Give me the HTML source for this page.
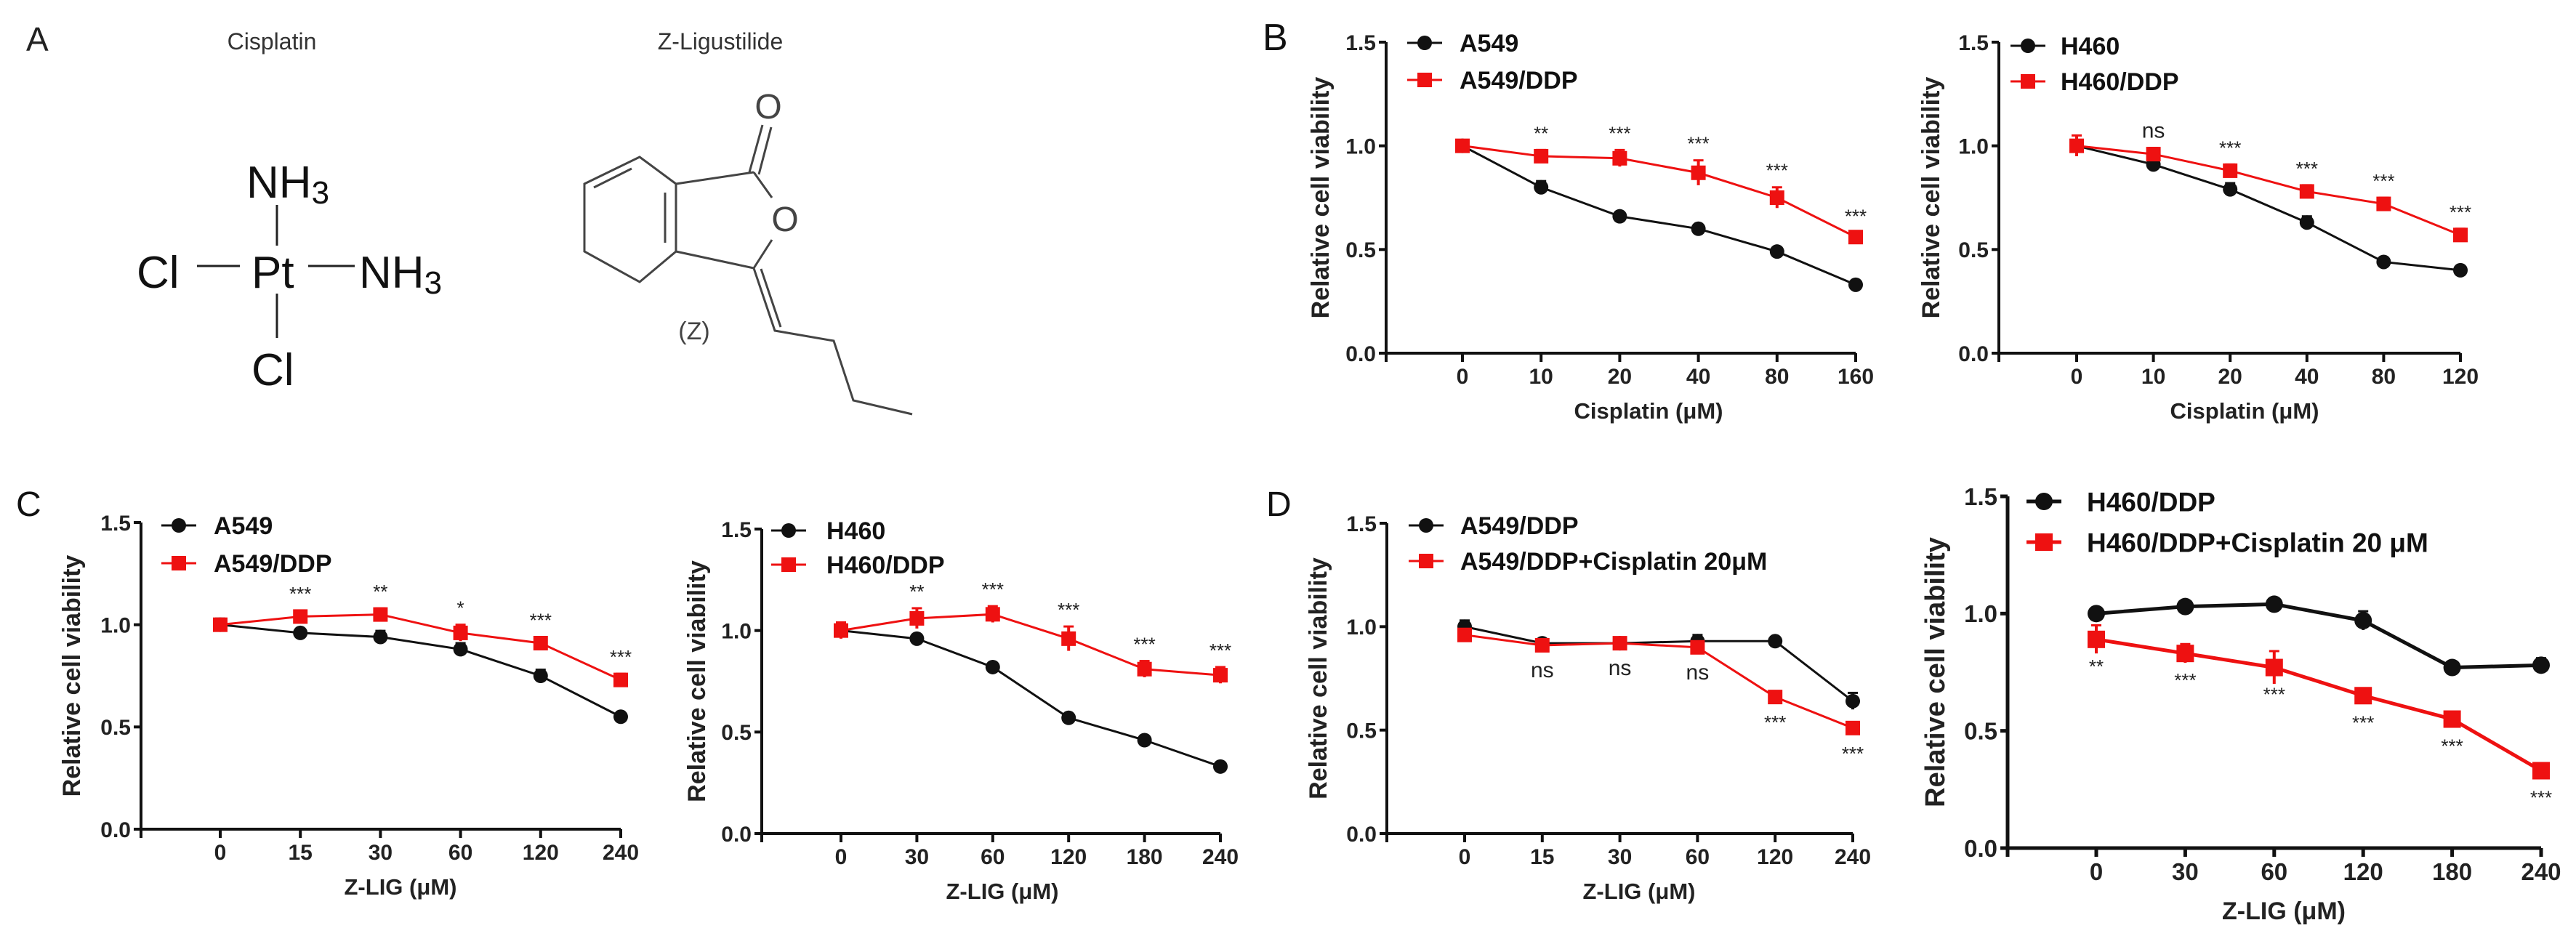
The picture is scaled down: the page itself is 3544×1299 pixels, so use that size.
<!DOCTYPE html>
<html><head><meta charset="utf-8">
<style>
html,body{margin:0;padding:0;background:#fff;}
svg{display:block;font-family:"Liberation Sans",Arial,sans-serif;}
</style></head>
<body>
<svg id="fig" width="3544" height="1299" viewBox="0 0 3544 1299" xmlns="http://www.w3.org/2000/svg">
<rect width="3544" height="1299" fill="#fff"/>
<g>
<text x="36" y="70" font-size="46" fill="#222">A</text>
<text x="374" y="68" font-size="32" text-anchor="middle" fill="#333">Cisplatin</text>
<text x="991" y="68" font-size="32" text-anchor="middle" fill="#333">Z-Ligustilide</text>
<g fill="#111" font-size="62">
<text x="339" y="272">NH<tspan font-size="44" dy="8">3</tspan></text>
<line x1="381" y1="282" x2="381" y2="338" stroke="#222" stroke-width="3"/>
<text x="188" y="396">Cl</text>
<line x1="271" y1="366" x2="330" y2="366" stroke="#222" stroke-width="3"/>
<text x="346" y="396">Pt</text>
<line x1="424" y1="366" x2="488" y2="366" stroke="#222" stroke-width="3"/>
<text x="494" y="396">NH<tspan font-size="44" dy="8">3</tspan></text>
<line x1="381" y1="404" x2="381" y2="465" stroke="#222" stroke-width="3"/>
<text x="346" y="530">Cl</text>
</g>
<g stroke="#444" stroke-width="3" fill="none">
<polyline points="930,253 880,216 804,253 804,346 880,388 930,346 930,253"/>
<line x1="869" y1="232" x2="817" y2="258"/>
<line x1="915" y1="265" x2="915" y2="334"/>
<line x1="930" y1="253" x2="1037" y2="237"/>
<line x1="1037" y1="237" x2="1062" y2="272"/>
<line x1="1062" y1="330" x2="1037" y2="369"/>
<line x1="1037" y1="369" x2="930" y2="346"/>
<line x1="1031" y1="237" x2="1049" y2="172"/>
<line x1="1044" y1="240" x2="1061" y2="175"/>
<polyline points="1037,369 1066,455 1147,469 1174,551 1255,570"/>
<line x1="1047" y1="370" x2="1074" y2="450"/>
</g>
<text x="1057" y="163" font-size="48" text-anchor="middle" fill="#444">O</text>
<text x="1080" y="318" font-size="48" text-anchor="middle" fill="#444">O</text>
<text x="955" y="467" font-size="34" text-anchor="middle" fill="#444">(Z)</text>
</g>
<text x="1737" y="69" font-size="52" fill="#111">B</text>
<text x="22" y="710" font-size="48" fill="#111">C</text>
<text x="1742" y="710" font-size="48" fill="#111">D</text>
<g id="charts"></g>
</svg>
<script>
// Panel B1
const b1Cats = ["0","10","20","40","80","160"];
const b1S1 = [1.0,0.80,0.66,0.60,0.49,0.33];
const b1S2 = [1.0,0.95,0.94,0.87,0.75,0.56];
const b1E1 = [0.01,0.03,0.01,0.01,0.01,0.01];
const b1E2 = [0.01,0.03,0.04,0.06,0.05,0.02];
const b1Sig = ["","**","***","***","***","***"];
// Panel B2
const b2Cats = ["0","10","20","40","80","120"];
const b2S1 = [1.0,0.91,0.79,0.63,0.44,0.40];
const b2S2 = [1.0,0.96,0.88,0.78,0.72,0.57];
const b2E1 = [0.02,0.02,0.03,0.03,0.02,0.02];
const b2E2 = [0.05,0.03,0.03,0.03,0.03,0.03];
const b2Sig = ["","ns","***","***","***","***"];
// Panel C1
const c1Cats = ["0","15","30","60","120","240"];
const c1S1 = [1.0,0.96,0.94,0.88,0.75,0.55];
const c1S2 = [1.0,1.04,1.05,0.96,0.91,0.73];
const c1E1 = [0.03,0.02,0.03,0.03,0.03,0.02];
const c1E2 = [0.02,0.03,0.03,0.04,0.03,0.03];
const c1Sig = ["","***","**","*","***","***"];
// Panel C2
const c2Cats = ["0","30","60","120","180","240"];
const c2S1 = [1.0,0.96,0.82,0.57,0.46,0.33];
const c2S2 = [1.0,1.06,1.08,0.96,0.81,0.78];
const c2E1 = [0.03,0.02,0.02,0.02,0.02,0.02];
const c2E2 = [0.04,0.05,0.04,0.06,0.04,0.04];
const c2Sig = ["","**","***","***","***","***"];
// Panel D1
const d1Cats = ["0","15","30","60","120","240"];
const d1S1 = [1.0,0.92,0.92,0.93,0.93,0.64];
const d1S2 = [0.96,0.91,0.92,0.90,0.66,0.51];
const d1E1 = [0.03,0.02,0.02,0.03,0.02,0.04];
const d1E2 = [0.02,0.02,0.02,0.02,0.02,0.02];
const d1Sig = ["","ns","ns","ns","***","***"];
// Panel D2
const d2Cats = ["0","30","60","120","180","240"];
const d2S1 = [1.0,1.03,1.04,0.97,0.77,0.78];
const d2S2 = [0.89,0.83,0.77,0.65,0.55,0.33];
const d2E1 = [0.02,0.02,0.02,0.04,0.02,0.03];
const d2E2 = [0.06,0.04,0.07,0.02,0.02,0.02];
const d2Sig = ["**","***","***","***","***","***"];
const yTicks = [0,0.5,1.0,1.5];
const yTickLabels = ["0.0","0.5","1.0","1.5"];

const NS = "http://www.w3.org/2000/svg";
const root = document.getElementById("charts");
function mk(tag, attrs, parent){
  const e = document.createElementNS(NS, tag);
  for (const k in attrs) e.setAttribute(k, attrs[k]);
  (parent||root).appendChild(e);
  return e;
}
function chart(cfg){
  const g = mk("g", {});
  
  
  const yS = v => cfg.y0 + (cfg.y15 - cfg.y0) * v / 1.5;
  const xS = i => cfg.x0 + i * cfg.dx;
  const lastX = xS(cfg.cats.length - 1);
  const aw = cfg.aw;
  const ya = mk("line", {x1:cfg.ax, y1:yS(1.5), x2:cfg.ax, y2:cfg.y0+12, stroke:"#111", "stroke-width":aw}, g);
  
  
  yTicks.forEach((t, i) => {
    const tk = mk("line", {x1:cfg.ax-10, y1:yS(t), x2:cfg.ax, y2:yS(t), stroke:"#111", "stroke-width":aw}, g);
    
    
    const tl = mk("text", {x:cfg.ax-14, y:yS(t)+cfg.tf*0.36, "font-size":cfg.tf, "font-weight":"bold", "text-anchor":"end", fill:"#222"}, g);
    tl.textContent = yTickLabels[i];
    
    
  });
  const xa = mk("line", {x1:cfg.ax, y1:cfg.y0, x2:lastX, y2:cfg.y0, stroke:"#111", "stroke-width":aw}, g);
  
  
  cfg.cats.forEach((c, i) => {
    const tk = mk("line", {x1:xS(i), y1:cfg.y0, x2:xS(i), y2:cfg.y0+12, stroke:"#111", "stroke-width":aw}, g);
    
    
    const tl = mk("text", {x:xS(i), y:cfg.y0+cfg.xlOff, "font-size":cfg.tf, "font-weight":"bold", "text-anchor":"middle", fill:"#222"}, g);
    tl.textContent = c;
    
    
  });
  const xt = mk("text", {x:cfg.xtX, y:cfg.y0+cfg.xtOff, "font-size":cfg.xtf, "font-weight":"bold", "text-anchor":"middle", fill:"#222"}, g);
  xt.textContent = cfg.xTitle;
  
  
  const ytx = cfg.ytX, yty = (yS(0)+yS(1.5))/2;
  const yt = mk("text", {x:ytx, y:yty, "font-size":cfg.ttf, "font-weight":"bold", "text-anchor":"middle", fill:"#222", transform:`rotate(-90 ${ytx} ${yty})`}, g);
  yt.textContent = "Relative cell viability";
  
  
  const series = [
    {vals:cfg.s1, err:cfg.e1, col:"#111", shape:"circle", nm:"series-1"},
    {vals:cfg.s2, err:cfg.e2, col:"#ee1111", shape:"square", nm:"series-2"}
  ];
  series.forEach(s => {
    const pts = s.vals.map((v,i)=>xS(i)+","+yS(v)).join(" ");
    const pl = mk("polyline", {points:pts, fill:"none", stroke:s.col, "stroke-width":cfg.lw}, g);
    
    
    s.vals.forEach((v,i) => {
      const eb = mk("line", {x1:xS(i), y1:yS(v+s.err[i]), x2:xS(i), y2:yS(v-s.err[i]), stroke:s.col, "stroke-width":4}, g);
      
      
      const cap = mk("line", {x1:xS(i)-7, y1:yS(v+s.err[i]), x2:xS(i)+7, y2:yS(v+s.err[i]), stroke:s.col, "stroke-width":3}, g);
      
      
      let m;
      if (s.shape === "circle") m = mk("circle", {cx:xS(i), cy:yS(v), r:cfg.mr, fill:s.col}, g);
      else m = mk("rect", {x:xS(i)-cfg.mr, y:yS(v)-cfg.mr, width:cfg.mr*2, height:cfg.mr*2, fill:s.col}, g);
      
      
    });
  });
  cfg.sig.forEach((t,i) => {
    if (!t) return;
    const v = cfg.s2[i];
    const y = cfg.sigBelow ? yS(v) + cfg.mr + 34 : yS(v + cfg.e2[i]) - 14;
    const st = mk("text", {x:xS(i), y:y, "font-size":t==="ns"?30:26, "text-anchor":"middle", fill:"#222"}, g);
    st.textContent = t;
    
    
  });
  cfg.leg.forEach((lab, k) => {
    const ly = cfg.legY[k];
    const col = k===0 ? "#111" : "#ee1111";
    const ll = mk("line", {x1:cfg.legX-24, y1:ly, x2:cfg.legX+24, y2:ly, stroke:col, "stroke-width":cfg.lw}, g);
    
    
    let m;
    if (k===0) m = mk("circle", {cx:cfg.legX, cy:ly, r:cfg.mr, fill:col}, g);
    else m = mk("rect", {x:cfg.legX-cfg.mr, y:ly-cfg.mr, width:cfg.mr*2, height:cfg.mr*2, fill:col}, g);
    
    
    const lt = mk("text", {x:cfg.legTX, y:ly+cfg.lf*0.36, "font-size":cfg.lf, "font-weight":"bold", fill:"#111"}, g);
    lt.textContent = lab;
    
    
  });
}
const common = {aw:4, lw:3, mr:10, tf:30, ttf:34, xtf:31, lf:34, xlOff:42, xtOff:90};
chart(Object.assign({}, common, {name:"chart-b1", cats:b1Cats, s1:b1S1, s2:b1S2, e1:b1E1, e2:b1E2, sig:b1Sig,
  ax:1907, y0:486, y15:58, x0:2012, dx:108.2, xtX:2268, ytX:1828, xTitle:"Cisplatin (\u03bcM)",
  leg:["A549","A549/DDP"], legX:1960, legTX:2008, legY:[59,110]}));
chart(Object.assign({}, common, {name:"chart-b2", cats:b2Cats, s1:b2S1, s2:b2S2, e1:b2E1, e2:b2E2, sig:b2Sig,
  ax:2750, y0:486, y15:58, x0:2857, dx:105.6, xtX:3088, ytX:2668, xTitle:"Cisplatin (\u03bcM)",
  leg:["H460","H460/DDP"], legX:2790, legTX:2835, legY:[63,112]}));
chart(Object.assign({}, common, {name:"chart-c1", cats:c1Cats, s1:c1S1, s2:c1S2, e1:c1E1, e2:c1E2, sig:c1Sig,
  ax:194, y0:1141, y15:719, x0:303, dx:110.2, xtX:551, ytX:110, xTitle:"Z-LIG (\u03bcM)",
  leg:["A549","A549/DDP"], legX:246, legTX:294, legY:[723,775]}));
chart(Object.assign({}, common, {name:"chart-c2", cats:c2Cats, s1:c2S1, s2:c2S2, e1:c2E1, e2:c2E2, sig:c2Sig,
  ax:1048, y0:1147, y15:728, x0:1157, dx:104.4, xtX:1379, ytX:970, xTitle:"Z-LIG (\u03bcM)",
  leg:["H460","H460/DDP"], legX:1085, legTX:1137, legY:[730,777]}));
chart(Object.assign({}, common, {name:"chart-d1", cats:d1Cats, s1:d1S1, s2:d1S2, e1:d1E1, e2:d1E2, sig:d1Sig, sigBelow:true,
  ax:1908, y0:1147, y15:720, x0:2015, dx:106.8, xtX:2255, ytX:1825, xTitle:"Z-LIG (\u03bcM)",
  leg:["A549/DDP","A549/DDP+Cisplatin 20\u03bcM"], legX:1962, legTX:2009, legY:[723,772]}));
chart(Object.assign({}, common, {name:"chart-d2", cats:d2Cats, s1:d2S1, s2:d2S2, e1:d2E1, e2:d2E2, sig:d2Sig, sigBelow:true,
  aw:5, lw:5, mr:12, tf:33, ttf:38, xtf:34, lf:37, xlOff:44, xtOff:98,
  ax:2762, y0:1167, y15:683, x0:2884, dx:122.4, xtX:3142, ytX:2675, xTitle:"Z-LIG (\u03bcM)",
  leg:["H460/DDP","H460/DDP+Cisplatin 20 \u03bcM"], legX:2812, legTX:2871, legY:[690,746]}));
</script>
</body></html>
